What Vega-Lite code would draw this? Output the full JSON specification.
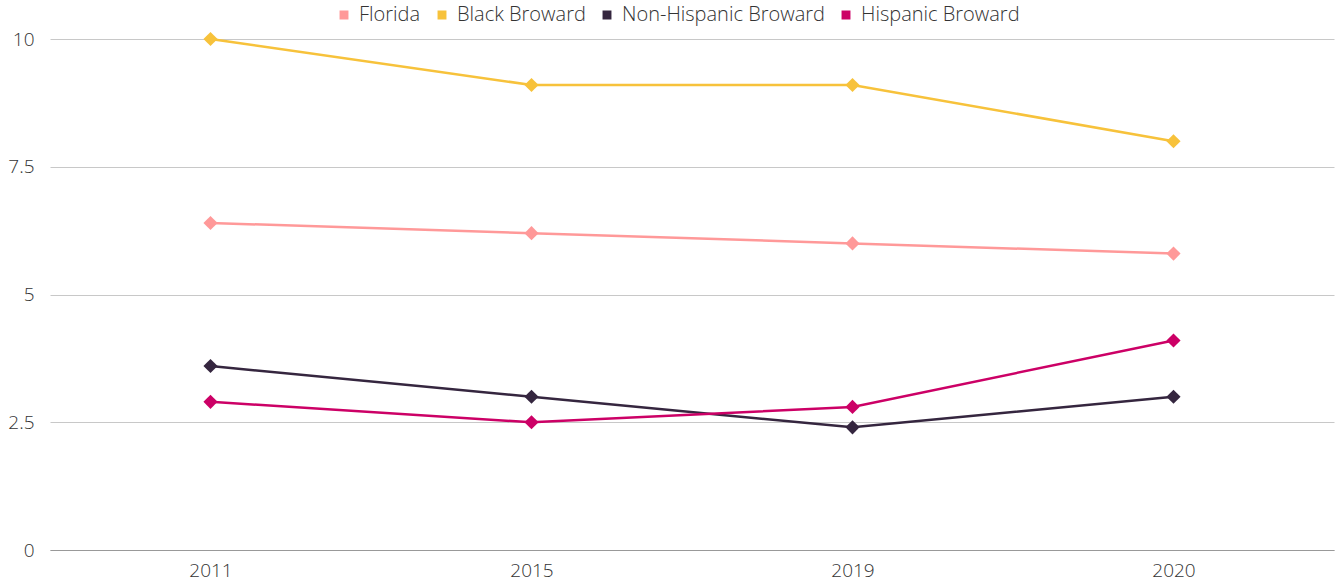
{
  "$schema": "https://vega.github.io/schema/vega-lite/v6.json",
  "width": 1284,
  "height": 511,
  "autosize": {"type": "none"},
  "padding": {"left": 50, "top": 39, "right": 5, "bottom": 35},
  "background": "white",
  "config": {
    "view": {"stroke": null},
    "font": "Open Sans",
    "axis": {"labelFont": "Open Sans", "labelFontWeight": 300, "labelFontSize": 19, "labelColor": "#333333"},
    "legend": {"labelFont": "Open Sans", "labelFontWeight": 300, "labelFontSize": 20, "labelColor": "#333333", "labelLimit": 0}
  },
  "data": {
    "values": [
      {"year": "2011", "series": "Florida", "value": 6.4},
      {"year": "2015", "series": "Florida", "value": 6.2},
      {"year": "2019", "series": "Florida", "value": 6.0},
      {"year": "2020", "series": "Florida", "value": 5.8},
      {"year": "2011", "series": "Black Broward", "value": 10.0},
      {"year": "2015", "series": "Black Broward", "value": 9.1},
      {"year": "2019", "series": "Black Broward", "value": 9.1},
      {"year": "2020", "series": "Black Broward", "value": 8.0},
      {"year": "2011", "series": "Non-Hispanic Broward", "value": 3.6},
      {"year": "2015", "series": "Non-Hispanic Broward", "value": 3.0},
      {"year": "2019", "series": "Non-Hispanic Broward", "value": 2.4},
      {"year": "2020", "series": "Non-Hispanic Broward", "value": 3.0},
      {"year": "2011", "series": "Hispanic Broward", "value": 2.9},
      {"year": "2015", "series": "Hispanic Broward", "value": 2.5},
      {"year": "2019", "series": "Hispanic Broward", "value": 2.8},
      {"year": "2020", "series": "Hispanic Broward", "value": 4.1}
    ]
  },
  "encoding": {
    "x": {
      "field": "year", "type": "ordinal",
      "scale": {"type": "point", "padding": 0.5},
      "axis": {"title": null, "labelAngle": 0, "ticks": false, "domain": true, "domainColor": "#999999", "labelPadding": 11, "grid": false}
    },
    "y": {
      "field": "value", "type": "quantitative",
      "scale": {"domain": [0, 10], "nice": false},
      "axis": {"title": null, "values": [0, 2.5, 5, 7.5, 10], "labelExpr": "datum.value + ''", "ticks": false, "domain": false, "gridColor": "#c8c8c8", "labelPadding": 16}
    },
    "color": {
      "field": "series", "type": "nominal",
      "scale": {
        "domain": ["Florida", "Black Broward", "Non-Hispanic Broward", "Hispanic Broward"],
        "range": ["#FF9999", "#F7C23B", "#35263F", "#CC0066"]
      },
      "legend": {
        "title": null, "orient": "none", "direction": "horizontal",
        "legendX": 284, "legendY": -34,
        "symbolType": "square", "symbolSize": 55, "symbolOpacity": 1,
        "columnPadding": 11, "labelOffset": 5
      }
    }
  },
  "layer": [
    {"mark": {"type": "line", "strokeWidth": 2.5}},
    {"mark": {"type": "point", "shape": "diamond", "filled": true, "size": 200, "opacity": 1}}
  ]
}
